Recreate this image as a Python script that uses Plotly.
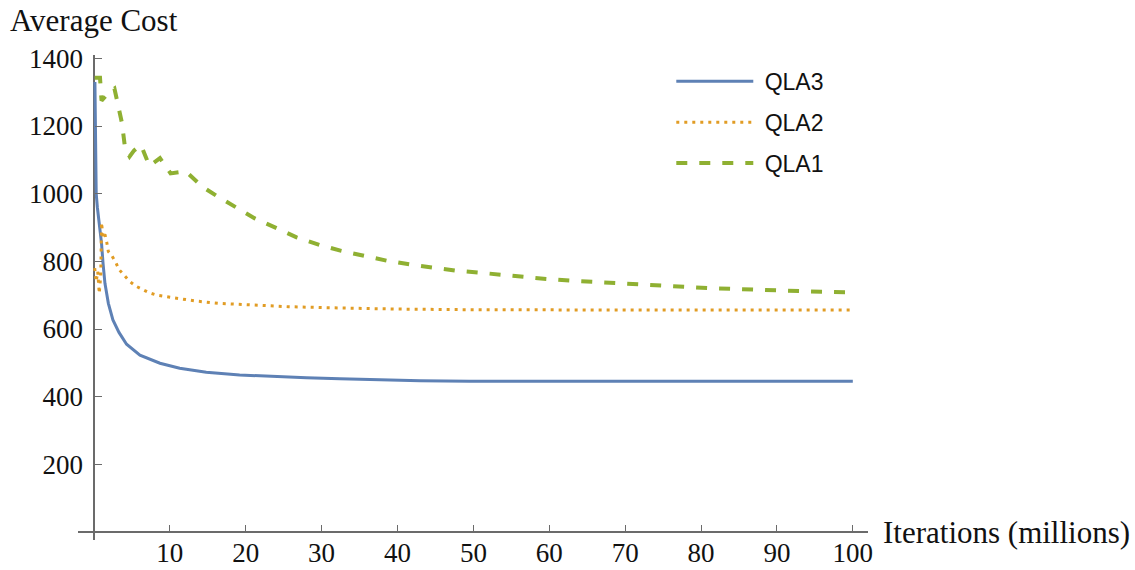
import plotly.graph_objects as go

# ---------------- data ----------------
qla3_x = [0.13, 0.3, 0.45, 0.57, 0.8, 1.0, 1.2, 1.45, 1.9, 2.5, 3.3, 4.3, 6.06, 8.7,
          11.3, 14.8, 19.2, 23.6, 28, 32.4, 38, 43, 49.5, 60, 70, 80, 90, 100]
qla3_y = [1330, 1000, 960, 940, 900, 853, 794, 735, 676, 627, 590, 555, 523, 499,
          484, 472, 464, 459, 456, 453, 449, 447, 446, 445.5, 445.5, 445.5, 445.5, 445.5]

qla2_x = [0.1, 0.3, 0.5, 0.7, 0.9, 1.0, 1.2, 1.45, 1.7, 1.9, 2.3, 2.9, 3.3, 4.0, 4.65,
          5.5, 6.4, 7.3, 8.3, 10.2, 13.3, 16.4, 20.6, 25.6, 30.7, 40, 50, 60, 70, 80, 90, 100]
qla2_y = [780, 740, 770, 705, 760, 915, 870, 880, 855, 829, 819, 796, 776, 757, 742,
          727, 717, 707, 700, 693, 683, 676, 671, 666, 663, 659, 657, 656, 656, 656, 656, 656]

qla1_x = [0.1, 0.8, 1.0, 1.6, 2.1, 2.7, 3.2, 3.7, 4.1, 4.7, 5.3, 6.2, 6.9, 7.3, 8.7,
          10.1, 12.1, 14.2, 16.2, 18.8, 21.2, 24.1, 26.7, 29.8, 32.6, 35.7, 38.6, 41.6,
          44.7, 47.6, 50.6, 53.7, 56.6, 59.6, 62.7, 65.8, 68.9, 71.7, 74.8, 77.9, 80.9,
          83.8, 86.8, 89.9, 93, 95.9, 100]
qla1_y = [1343, 1343, 1275, 1290, 1302, 1311, 1257, 1208, 1135, 1110, 1128, 1144, 1105,
          1082, 1105, 1060, 1066, 1022, 993, 960, 927, 898, 871, 848, 831, 816, 802, 791,
          781, 773, 767, 760, 753, 748, 743, 739, 735, 731, 727, 724, 721, 719, 716, 714,
          712, 710, 708]

x_ticks = [10, 20, 30, 40, 50, 60, 70, 80, 90, 100]
y_ticks = [200, 400, 600, 800, 1000, 1200, 1400]

x_title = "Iterations (millions)"
y_title = "Average Cost"

# ---------------- styling ----------------
BLUE = "#5E81B5"
ORANGE = "#E19C24"
GREEN = "#8FB032"
AXIS = "#6b6b6b"
SERIF = "Liberation Serif, Times New Roman, serif"
SANS = "Liberation Sans, Arial, sans-serif"

x_range = [-2.1, 102]
y_range = [-23.6, 1410]

fig = go.Figure()
fig.add_trace(go.Scatter(x=qla3_x, y=qla3_y, mode="lines", name=" QLA3", legendgroup="a",
                         line=dict(color=BLUE, width=3)))
fig.add_trace(go.Scatter(x=qla2_x, y=qla2_y, mode="lines", name=" QLA2", legendgroup="b",
                         line=dict(color=ORANGE, width=3, dash="3px,5px")))
fig.add_trace(go.Scatter(x=qla1_x, y=qla1_y, mode="lines", name=" QLA1", legendgroup="c",
                         line=dict(color=GREEN, width=4, dash="11px,12px")))

x0_paper = (0 - x_range[0]) / (x_range[1] - x_range[0])
y0_paper = (0 - y_range[0]) / (y_range[1] - y_range[0])

fig.update_layout(
    template="none",
    width=1135, height=570,
    margin=dict(l=78, r=267, t=55, b=30),
    paper_bgcolor="white", plot_bgcolor="white",
    hovermode=False,
    showlegend=True,
    legend=dict(x=0.751, y=0.99, xanchor="left", yanchor="top",
                font=dict(family=SANS, size=23, color="#111"),
                itemwidth=77, tracegroupgap=8, bgcolor="rgba(0,0,0,0)",
                borderwidth=0, traceorder="grouped"),
    xaxis=dict(range=x_range, tickvals=x_ticks, ticks="inside", ticklen=7, tickwidth=1.3,
               tickcolor=AXIS, showgrid=False, showline=False, automargin=False,
               zeroline=True, zerolinecolor=AXIS, zerolinewidth=1.6,
               anchor="free", position=y0_paper,
               tickfont=dict(family=SERIF, size=27, color="#111"),
               ticklabelstandoff=2),
    yaxis=dict(range=y_range, tickvals=y_ticks, ticks="inside", ticklen=7, tickwidth=1.3,
               tickcolor=AXIS, showgrid=False, showline=False, automargin=False,
               zeroline=True, zerolinecolor=AXIS, zerolinewidth=1.6,
               anchor="free", position=x0_paper,
               tickfont=dict(family=SERIF, size=27, color="#111"),
               ticklabelstandoff=11),
    annotations=[
        dict(text=y_title, xref="paper", yref="paper", x=-0.088, y=1.072,
             xanchor="left", yanchor="middle", showarrow=False,
             font=dict(family=SERIF, size=31, color="#111")),
        dict(text=x_title, xref="paper", yref="paper", x=1.017, y=y0_paper,
             xanchor="left", yanchor="middle", showarrow=False,
             font=dict(family=SERIF, size=31, color="#111")),
    ],
)

fig.write_html("out.html")
